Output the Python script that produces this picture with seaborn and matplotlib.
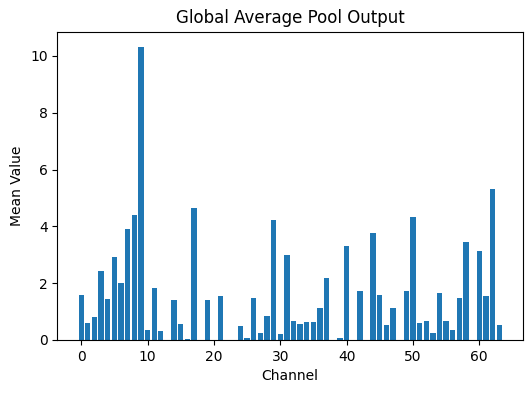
import matplotlib
matplotlib.use("Agg")
import matplotlib.pyplot as plt
import seaborn as sns
import pandas as pd

channels = list(range(64))
mean_values = [
    1.58, 0.60, 0.82, 2.43, 1.45, 2.91, 2.00, 3.89, 4.39, 10.33,
    0.35, 1.84, 0.32, 0.00, 1.40, 0.56, 0.04, 4.63, 0.00, 1.40,
    0.00, 1.54, 0.00, 0.00, 0.49, 0.07, 1.49, 0.25, 0.84, 4.21,
    0.21, 2.98, 0.67, 0.56, 0.63, 0.63, 1.13, 2.18, 0.00, 0.07,
    3.30, 0.00, 1.72, 0.00, 3.75, 1.58, 0.53, 1.13, 0.00, 1.72,
    4.32, 0.60, 0.67, 0.25, 1.65, 0.67, 0.35, 1.49, 3.44, 0.00,
    3.12, 1.54, 5.33, 0.53,
]

df = pd.DataFrame({"Channel": channels, "Mean Value": mean_values})

fig, ax = plt.subplots(figsize=(5.31, 3.93), dpi=100)
fig.subplots_adjust(left=0.108, right=0.985, top=0.919, bottom=0.135)

sns.barplot(data=df, x="Channel", y="Mean Value", native_scale=True,
            color="#1f77b4", saturation=1, width=0.8, linewidth=0,
            errorbar=None, ax=ax)

ax.set_xlim(-3.59, 66.59)
ax.set_title("Global Average Pool Output")
ax.set_xlabel("Channel")
ax.set_ylabel("Mean Value")

fig.savefig("out.png", dpi=100)
